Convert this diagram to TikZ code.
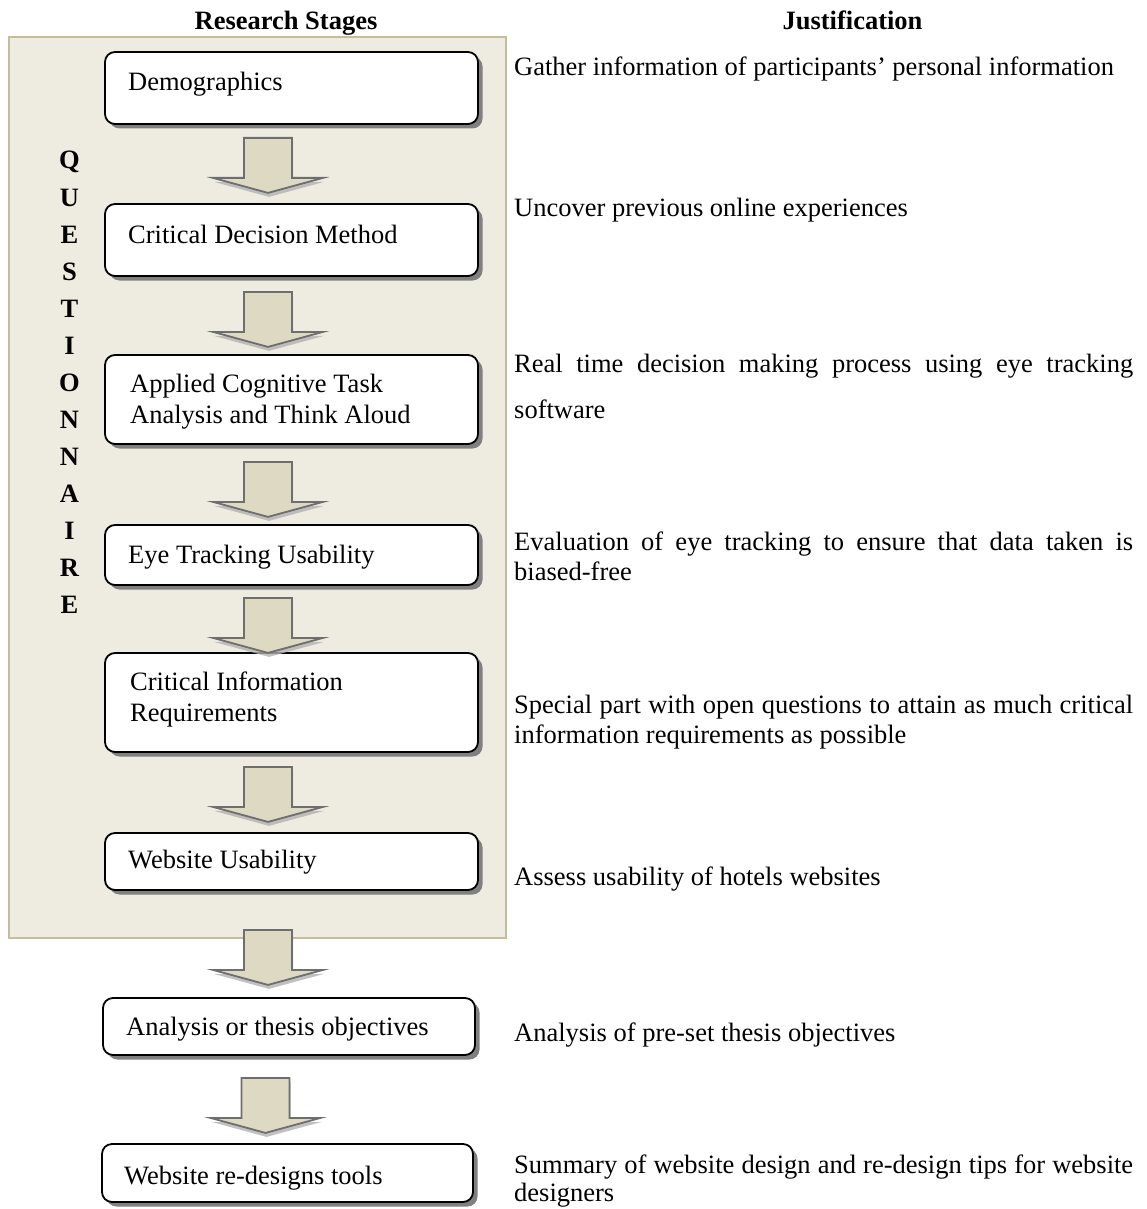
\documentclass[tikz,border=0pt]{standalone}
\usepackage{fontspec}
\setmainfont{Liberation Serif}
\usetikzlibrary{shadows,calc}

\definecolor{panelfill}{HTML}{EEECE1}
\definecolor{paneldraw}{HTML}{C4BD97}
\definecolor{arrowfill}{HTML}{DDD9C3}
\definecolor{arrowdraw}{HTML}{6E6E6E}

\tikzset{
  panel/.style={fill=panelfill, draw=paneldraw, line width=2pt},
  stagebox/.style={draw=black, line width=1.8pt, fill=white, rounded corners=10pt,
    inner sep=0pt,
    drop shadow={shadow xshift=4.5pt, shadow yshift=-4.5pt, fill=black!50, opacity=1}},
  boxtext/.style={anchor=base west, inner sep=0pt, align=left,
    font=\fontsize{26.5}{31}\selectfont},
  note/.style={anchor=base west, inner sep=0pt, text width=619pt, align=justify,
    font=\fontsize{26.5}{30}\selectfont},
  heading/.style={anchor=base, inner sep=0pt, font=\fontsize{26.5}{31}\selectfont\bfseries},
  letter/.style={anchor=base, inner sep=0pt, font=\fontsize{26.5}{31}\selectfont\bfseries},
  pics/stagearrow/.style={code={
    \path[fill=arrowfill, draw=arrowdraw, line width=1.8pt, line join=miter,
      drop shadow={shadow xshift=1pt, shadow yshift=-4pt, fill=black!30, opacity=0.8}]
      (-24,0) -- (24,0) -- (24,40) -- (55,40) -- (0,55) -- (-55,40) -- (-24,40) -- cycle;
  }}
}

\begin{document}
\begin{tikzpicture}[x=1pt, y=-1pt]
  \useasboundingbox (0,0) rectangle (1147,1209);

  % column headings
  \node[heading] (hstages) at (286,29.3) {Research Stages};
  \node[heading] (hjust) at (852.5,29.3) {Justification};

  % questionnaire panel
  \path[panel] (9,37) rectangle (506,938);
  \foreach \l [count=\i from 0] in {Q,U,E,S,T,I,O,N,N,A,I,R,E}
    \node[letter] (q\i) at (69.5,{169+37.08*\i}) {\l};

  % stage boxes
  \node[stagebox, minimum width=373pt, minimum height=72pt] (b1) at (291.5,88) {};
  \node[stagebox, minimum width=373pt, minimum height=72pt] (b2) at (291.5,240) {};
  \node[stagebox, minimum width=373pt, minimum height=89pt] (b3) at (291.5,399.5) {};
  \node[stagebox, minimum width=373pt, minimum height=60pt] (b4) at (291.5,555) {};
  \node[stagebox, minimum width=373pt, minimum height=99pt] (b5) at (291.5,702.5) {};
  \node[stagebox, minimum width=373pt, minimum height=57pt] (b6) at (291.5,861.5) {};
  \node[stagebox, minimum width=372pt, minimum height=57pt] (b7) at (289,1026.5) {};
  \node[stagebox, minimum width=371pt, minimum height=58pt] (b8) at (287.5,1173) {};

  % stage labels (two-line labels sit on the baseline of their last line)
  \node[boxtext] (l1) at (128,90.7) {Demographics};
  \node[boxtext] (l2) at (128,243) {Critical Decision Method};
  \node[boxtext] (l3) at (130,423.3) {Applied Cognitive Task\\Analysis and Think Aloud};
  \node[boxtext] (l4) at (128,563) {Eye Tracking Usability};
  \node[boxtext] (l5) at (130,721.7) {Critical Information\\Requirements};
  \node[boxtext] (l6) at (128,868.3) {Website Usability};
  \node[boxtext] (l7) at (126,1035) {Analysis or thesis objectives};
  \node[boxtext] (l8) at (124,1184) {Website re-designs tools};

  % block arrows between the stages
  \pic at ($(b1.south)+(-23.5,13)$) {stagearrow};
  \pic at ($(b2.south)+(-23.5,15)$) {stagearrow};
  \pic at ($(b3.south)+(-23.5,17)$) {stagearrow};
  \pic at ($(b4.south)+(-23.5,12)$) {stagearrow};
  \pic at ($(b5.south)+(-23.5,14)$) {stagearrow};
  \pic at ($(b6.south)+(-23.5,39)$) {stagearrow};
  \pic at ($(b7.south)+(-23.5,22)$) {stagearrow};

  % justification column
  \node[note] (j1) at (514,76) {Gather information of participants’ personal information};
  \node[note] (j2) at (514,216.7) {Uncover previous online experiences};
  \node[note, font=\fontsize{26.5}{45.7}\selectfont] (j3) at (514,372.7)
    {Real time decision making process using eye tracking\linebreak software};
  \node[note] (j4) at (514,550.7)
    {Evaluation of eye tracking to ensure that data taken is\linebreak biased-free};
  \node[note] (j5) at (514,713.3)
    {Special part with open questions to attain as much critical\linebreak information requirements as possible};
  \node[note] (j6) at (514,885) {Assess usability of hotels websites};
  \node[note] (j7) at (514,1041.7) {Analysis of pre-set thesis objectives};
  \node[note, font=\fontsize{26.5}{28.4}\selectfont] (j8) at (514,1173.3)
    {Summary of website design and re-design tips for website\linebreak designers};
\end{tikzpicture}
\end{document}
